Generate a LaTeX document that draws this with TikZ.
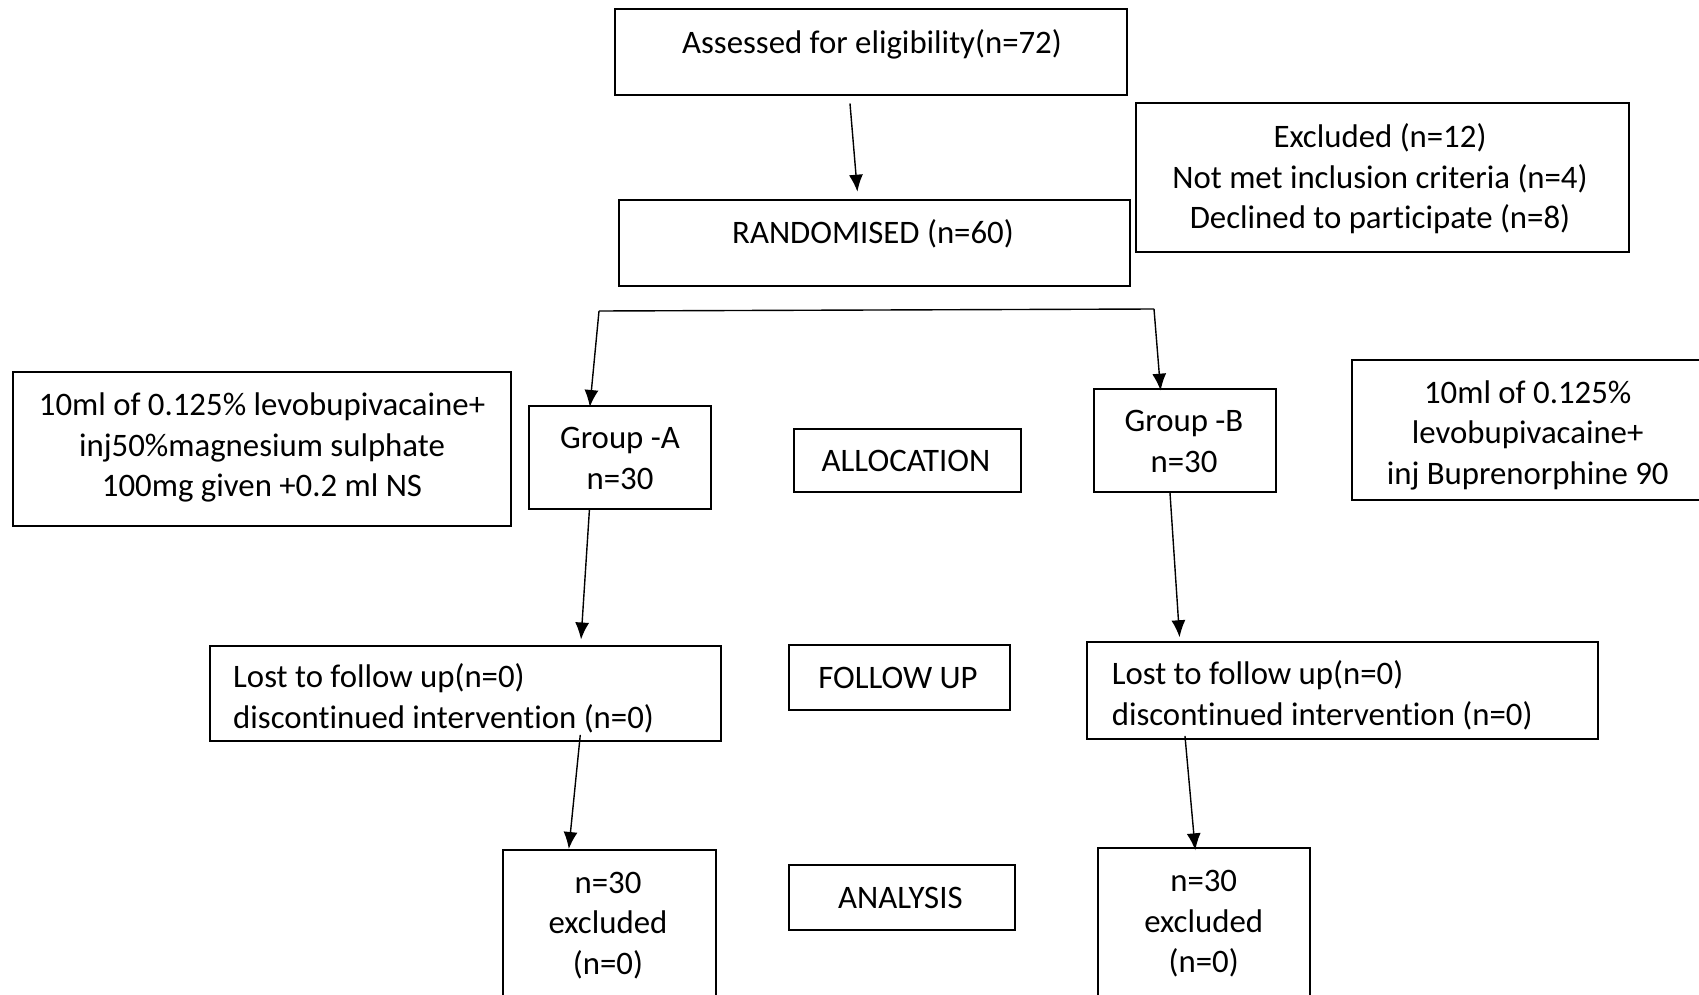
\documentclass[tikz,border=0pt]{standalone}
\usepackage{fontspec}
\setmainfont{Carlito}[Ligatures=NoCommon]
\usetikzlibrary{arrows.meta}

\begin{document}
\begin{tikzpicture}[x=1pt, y=-1pt, >={Latex[length=17pt, width=14pt]},
  box/.style={draw, line width=2pt, inner sep=0pt},
  txt/.style={inner sep=0pt, align=center, font=\fontsize{32.8}{40.4}\selectfont},
  arr/.style={->, line width=1.4pt}]

\useasboundingbox (0, 0) rectangle (1699, 995);
\clip (0, 0) rectangle (1699, 995);

\node[box, minimum width=512, minimum height=86] (assess) at (871, 52.5) {};
\node[txt] (assesstxt) at (872, 45) {\strut Assessed for eligibility(n=72)};

\node[box, minimum width=493, minimum height=149] (excluded) at (1382, 177.5) {};
\node[txt] (excludedtxt) at (1380, 180) {\strut Excluded (n=12)\\ \strut Not met inclusion criteria (n=4)\\ \strut Declined to participate (n=8)};

\node[box, minimum width=511, minimum height=86] (random) at (874.4, 243) {};
\node[txt] (randomtxt) at (873, 235.5) {\strut RANDOMISED (n=60)};

\node[box, minimum width=498, minimum height=154] (doseA) at (262, 448.7) {};
\node[txt] (doseAtxt) at (262, 448) {\strut 10ml of 0.125\% levobupivacaine+\\ \strut inj50\%magnesium sulphate\\ \strut 100mg given +0.2 ml NS};

\node[box, minimum width=182, minimum height=103] (groupA) at (619.7, 457.5) {};
\node[txt] (groupAtxt) at (620, 461) {\strut Group -A\\ \strut n=30};

\node[box, minimum width=226.6, minimum height=63] (alloc) at (907.3, 460.5) {};
\node[txt] (alloctxt) at (906, 463.5) {\strut ALLOCATION};

\node[box, minimum width=182, minimum height=103] (groupB) at (1185.2, 440.5) {};
\node[txt] (groupBtxt) at (1184, 443.8) {\strut Group -B\\ \strut n=30};

\node[box, minimum width=380, minimum height=140] (doseB) at (1542, 430) {};
\node[txt] (doseBtxt) at (1527.7, 435.6) {\strut 10ml of 0.125\%\\ \strut levobupivacaine+\\ \strut inj Buprenorphine 90};

\node[box, minimum width=510.5, minimum height=95] (lostA) at (465.3, 693) {};
\node[txt, align=left, anchor=west] (lostAtxt) at (233, 700) {\strut Lost to follow up(n=0)\\ \strut discontinued intervention (n=0)};

\node[box, minimum width=221, minimum height=65] (follow) at (899.2, 677.5) {};
\node[txt] (followtxt) at (898, 680.2) {\strut FOLLOW UP};

\node[box, minimum width=511.3, minimum height=96.7] (lostB) at (1342.3, 690.3) {};
\node[txt, align=left, anchor=west] (lostBtxt) at (1111.6, 697) {\strut Lost to follow up(n=0)\\ \strut discontinued intervention (n=0)};

\node[box, minimum width=213.4, minimum height=160] (analysedA) at (609.4, 930) {};
\node[txt] (analysedAtxt) at (608, 925.6) {\strut n=30\\ \strut excluded\\ \strut (n=0)};

\node[box, minimum width=226.5, minimum height=65] (analysis) at (902, 897.5) {};
\node[txt] (analysistxt) at (900.4, 900.2) {\strut ANALYSIS};

\node[box, minimum width=212.5, minimum height=161.7] (analysedB) at (1203.8, 929.2) {};
\node[txt] (analysedBtxt) at (1203.7, 924) {\strut n=30\\ \strut excluded\\ \strut (n=0)};

\coordinate (splitL) at (599, 311);
\coordinate (splitR) at (1154, 309);

\draw[arr, shorten <=7pt, shorten >=7.3pt] ([xshift=-21.6pt]assess.south) -- ([xshift=-16.4pt]random.north);

\draw[line width=1.4pt] (splitL) -- (splitR);

\draw[arr, shorten >=-2pt] (splitL) -- ([xshift=-29.7pt]groupA.north);

\draw[arr, shorten >=-2.7pt] (splitR) -- ([xshift=-24.8pt]groupB.north);

\draw[arr, shorten >=5pt] ([xshift=-30.3pt]groupA.south) -- ([xshift=115.4pt]lostA.north);

\draw[arr, shorten >=3.7pt] ([xshift=-15.2pt]groupB.south) -- ([xshift=-162.5pt]lostB.north);

\draw[arr, shorten <=-6.7pt] ([xshift=114.3pt]lostA.south) -- ([xshift=-40.6pt]analysedA.north);

\draw[arr, shorten <=-3.7pt, shorten >=-3pt] ([xshift=-157pt]lostB.south) -- ([xshift=-8.8pt]analysedB.north);

\end{tikzpicture}
\end{document}
